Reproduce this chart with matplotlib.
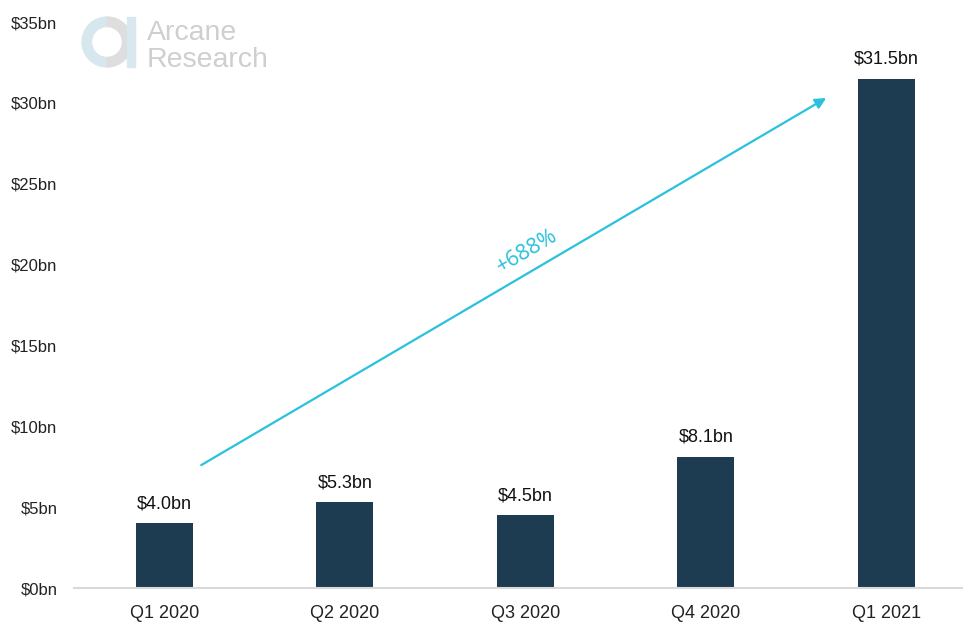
import matplotlib.pyplot as plt
from matplotlib.patches import Wedge, Rectangle

# Quarterly volumes, $bn
quarters = ["Q1 2020", "Q2 2020", "Q3 2020", "Q4 2020", "Q1 2021"]
volumes = [4.0, 5.3, 4.5, 8.1, 31.5]
value_labels = ["$4.0bn", "$5.3bn", "$4.5bn", "$8.1bn", "$31.5bn"]
y_ticks = [0, 5, 10, 15, 20, 25, 30, 35]
growth_label = "+688%"

BAR_COLOR = "#1d3c51"
ARROW_COLOR = "#29c1de"
W, H = 963, 623

plt.rcParams["font.family"] = ["Liberation Sans", "DejaVu Sans"]

fig = plt.figure(figsize=(W / 100, H / 100), dpi=100)
ax = fig.add_axes([74 / W, 35 / H, (W - 74) / W, (588 - 22) / H])

x = list(range(len(quarters)))
ax.bar(x, volumes, width=0.316, color=BAR_COLOR, zorder=2)
for xi, v, lab in zip(x, volumes, value_labels):
    ax.annotate(lab, (xi, v), xytext=(0, 8), textcoords="offset points",
                ha="center", va="bottom", fontsize=13, color="#111111")

ax.set_xlim(-0.5, 4.425)
ax.set_ylim(0, 35)
ax.set_xticks(x)
ax.set_xticklabels(quarters, fontsize=13, color="#222222")
ax.set_yticks(y_ticks)
ax.set_yticklabels([f"${t}bn" for t in y_ticks], fontsize=12, color="#222222")
ax.tick_params(axis="x", length=0, pad=12)
ax.tick_params(axis="y", length=0, pad=12)
for side in ("top", "right", "left"):
    ax.spines[side].set_visible(False)
ax.spines["bottom"].set_color("#d9d9d9")
ax.spines["bottom"].set_linewidth(1.5)

# growth arrow
ax.annotate("", xy=(3.667, 30.3), xytext=(0.205, 7.6),
            arrowprops=dict(arrowstyle="-|>", color=ARROW_COLOR, lw=1.6,
                            mutation_scale=16, shrinkA=0, shrinkB=0))
ax.text(2.01, 20.8, growth_label, rotation=30.4, rotation_mode="anchor",
        ha="center", va="center", fontsize=15.5, color=ARROW_COLOR,
        family=["Open Sans", "DejaVu Sans"])

# logo, drawn in pixel units
logo = fig.add_axes([80 / W, (H - 75) / H, 60 / W, 65 / H])
logo.set_xlim(80, 140)
logo.set_ylim(75, 10)
logo.axis("off")
logo.add_patch(Wedge((107, 42), 25, 90, 270, width=9.5, color="#d6e8ee"))
logo.add_patch(Wedge((107, 42), 25, -90, 90, width=9.5, color="#dedede"))
logo.add_patch(Rectangle((127, 17), 8, 50, color="#d8e8ee"))
fig.text(147 / W, 1 - 40 / H, "Arcane", fontsize=20.5, color="#cfcfcf",
         ha="left", va="baseline")
fig.text(147 / W, 1 - 67 / H, "Research", fontsize=20.5, color="#cfcfcf",
         ha="left", va="baseline")

fig.savefig("out.png", dpi=100)
